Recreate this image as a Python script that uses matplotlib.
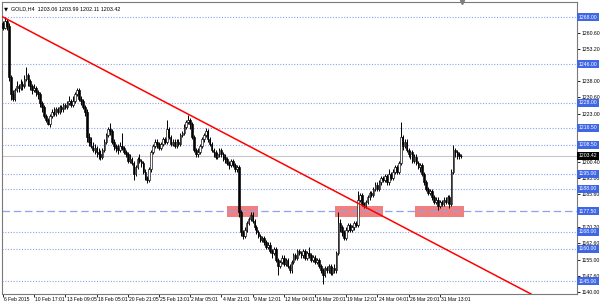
import matplotlib
matplotlib.use("Agg")
import matplotlib.pyplot as plt
import matplotlib.transforms as mtransforms
from matplotlib.patches import Rectangle

# GOLD H4 candles (bar index = position on the time axis)
closes = [1263,1266,1264,1240,1232,1230,1234,1236,1235,1237,
          1236,1239,1241,1238,1236,1234,1235,1233,1232,1228,
          1226,1222,1220,1218,1222,1224,1223,1225,1224,1226,
          1225,1227,1226,1228,1229,1227,1229,1232,1234,1230,
          1229,1226,1224,1212,1210,1208,1206,1207,1205,1204,
          1203,1206,1210,1213,1216,1215,1210,1208,1207,1206,
          1208,1207,1205,1204,1201,1202,1200,1195,1198,1202,
          1201,1200,1196,1193,1192,1197,1205,1208,1210,1209,
          1207,1209,1211,1210,1216,1212,1209,1210,1208,1210,
          1209,1213,1214,1217,1219,1220,1218,1212,1206,1204,
          1205,1208,1211,1213,1215,1211,1209,1206,1205,1203,
          1204,1206,1204,1203,1202,1200,1199,1201,1199,1197,
          1198,1177,1168,1166,1169,1172,1174,1176,1173,1170,
          1168,1166,1164,1165,1163,1161,1162,1159,1158,1160,
          1155,1152,1154,1156,1153,1155,1152,1150,1154,1157,
          1156,1159,1158,1157,1159,1156,1158,1157,1155,1156,
          1154,1155,1152,1150,1148,1151,1150,1152,1149,1151,
          1150,1158,1172,1170,1168,1165,1169,1171,1169,1170,
          1172,1171,1183,1185,1181,1180,1182,1184,1186,1185,
          1188,1190,1188,1191,1193,1192,1194,1191,1195,1193,
          1196,1198,1196,1200,1212,1208,1210,1206,1204,1205,
          1201,1203,1200,1198,1199,1195,1191,1188,1186,1187,
          1184,1182,1183,1180,1182,1181,1183,1182,1184,1181,
          1196,1206,1205,1204,1203.06,1203.42]

highs = [1266,1268,1267,1265,1241,1234,1235,1238,1237,1239,
         1238,1241,1244.5,1242,1239,1237,1237,1236,1234,1233,
         1229,1227,1223,1221,1223,1225,1226,1226,1226,1227,
         1227,1228,1228,1229,1231,1230,1231,1233,1235,1235,
         1231,1230,1227,1225,1214,1212,1210,1209,1208,1207,
         1206,1207,1211,1214,1217,1218.5,1216,1211,1209,1209,
         1210,1214,1208,1206,1205,1204,1203,1201,1199,1203,
         1204,1202,1201,1197,1194,1198,1206,1209,1211,1211,
         1210,1210,1212,1212,1220,1217,1213,1211,1211,1211,
         1211,1214,1215,1218,1220,1222.5,1221,1219,1213,1207,
         1207,1209,1212,1214,1216.5,1216,1212,1210,1207,1206,
         1205,1207,1207,1205,1204,1203,1201,1202,1202,1200,
         1199,1199,1178,1169,1170,1173,1175,1177,1177,1174,
         1171,1169,1167,1166,1166,1164,1163,1163,1160,1161,
         1161,1156,1155,1157,1157,1156,1156,1153,1155,1158,
         1158,1160,1160,1159,1160,1160,1159,1161,1158,1157,
         1157,1156,1156,1153,1151,1152,1152,1153,1153,1152,
         1153,1159,1177,1174,1171,1169,1170,1172,1172,1171,
         1173,1173,1187,1186,1186,1182,1183,1185,1187,1187,
         1189,1191,1191,1192,1194,1194,1195,1195,1197,1196,
         1197,1199,1199,1201,1219,1213,1211,1211,1207,1206,
         1206,1204,1204,1201,1200,1200,1196,1192,1189,1188,
         1188,1185,1184,1184,1183,1183,1184,1184,1185,1185,
         1197,1208.5,1207,1206,1205,1203.99]

lows = [1262,1262.5,1262,1238,1229.5,1229,1229,1233,1233,1234,
        1234,1235,1238,1236,1234,1232,1233,1231,1230,1226,
        1224,1221,1219,1217.5,1217,1221,1222,1222,1223,1223,
        1224,1224,1225,1225,1227,1226,1226,1228,1231,1229,
        1227,1225,1222,1210,1208,1207,1205,1204,1203,1202,
        1201.5,1202,1205,1209,1212,1213,1209,1206,1205,1204,
        1205,1206,1204,1203,1200,1200,1199,1192,1194,1197,
        1200,1198,1195,1192,1190.5,1191,1196,1204,1207,1207,
        1206,1206,1208,1209,1209,1211,1208,1208,1207,1207,
        1208,1208,1212,1213,1216,1218,1216,1211,1205,1203,
        1203,1204,1207,1210,1212,1210,1208,1205,1203,1202,
        1202,1203,1203,1201,1200,1199,1197,1198,1198,1196,
        1196,1175,1166,1164.5,1165,1168,1171,1173,1172,1169,
        1167,1165,1163,1163,1162,1160,1160,1158,1156,1157,
        1154,1148,1151,1153,1152,1152,1151,1149,1149,1153,
        1155,1155,1157,1156,1156,1155,1155,1156,1154,1154,
        1153,1153,1151,1149,1143.5,1147,1149,1149,1148,1148,
        1149,1149,1157,1168,1166,1164,1164,1168,1168,1168,
        1169,1170,1170,1182,1180,1179,1179,1181,1183,1184,
        1184,1187,1187,1187,1190,1191,1191,1190,1190,1192,
        1192,1195,1195,1195,1199,1206,1207,1205,1203,1202,
        1200,1200,1199,1197,1196,1194,1190,1187,1185,1185,
        1183,1181,1181,1178,1179,1180,1180,1181,1181,1179,
        1180,1195,1203,1202,1202,1202.11]

first_open = 1265
opens = [first_open] + closes[:-1]

# horizontal levels drawn on the chart
dotted_levels = [1268.00, 1246.00, 1228.00, 1216.50, 1208.50, 1195.00, 1188.00, 1168.00, 1160.00, 1145.00]
dashed_level = 1177.50
bid = 1203.42

# price scale ticks (labels hidden behind a level box are left empty)
ytick_values = [1140.00, 1147.60, 1155.00, 1162.60, 1170.20, 1177.80, 1185.60, 1193.00, 1200.40,
                1208.00, 1215.80, 1223.00, 1230.60, 1238.00, 1245.60, 1253.20, 1260.60, 1268.00]
ytick_hidden = [1177.80, 1208.00, 1215.80, 1245.60, 1268.00]

# time axis labels, one every 16 bars
xtick_bars = [0, 16, 32, 48, 64, 80, 96, 112, 128, 144, 160, 176, 192, 208, 224]
xtick_labels = ['6 Feb 2015', '10 Feb 17:01', '13 Feb 09:05', '18 Feb 05:01', '20 Feb 21:05',
                '25 Feb 13:01', '2 Mar 05:01', '4 Mar 21:01', '9 Mar 12:01', '12 Mar 04:01',
                '16 Mar 20:01', '19 Mar 12:01', '24 Mar 04:01', '26 Mar 20:01', '31 Mar 13:01']

# trend line (two anchor points) and support zones (bar from, bar to, price low, price high)
trend_bars = [0, 268.7]
trend_prices = [1268.0, 1140.0]
zones = [(114.9, 130.8, 1175.0, 1180.0),
         (170.3, 194.9, 1175.0, 1180.0),
         (211.3, 236.4, 1175.0, 1180.0)]

title = 'GOLD,H4  1203.06 1203.99 1202.11 1203.42'

narrow = ['Liberation Sans Narrow', 'Liberation Sans', 'DejaVu Sans']
regular = ['Liberation Sans', 'DejaVu Sans']

fig = plt.figure(figsize=(6.0, 3.03), dpi=100)
fig.patch.set_facecolor('white')
ax = fig.add_axes([2/600, 9/303, 575/600, 292/303])
ax.set_xlim(-0.5, 294.4)
ax.set_ylim(1139.0, 1275.0)

line_col = '#8fa2ee'
box_col = '#3f66e4'

for z in zones:
    ax.add_patch(Rectangle((z[0], z[2]), z[1]-z[0], z[3]-z[2], facecolor='#f08080',
                           edgecolor='none', zorder=0.5))

for lv in dotted_levels:
    ax.axhline(lv, color=line_col, lw=0.8, ls=(0, (1, 1.5)), zorder=1)
ax.axhline(dashed_level, color=line_col, lw=0.9, ls=(0, (6, 3)), zorder=1)
ax.axhline(bid, color='#c8c8c8', lw=0.8, zorder=1)

# candles
idx = list(range(len(closes)))
ax.vlines(idx, lows, highs, color='black', lw=0.7, zorder=2)
for i in idx:
    o, c = opens[i], closes[i]
    fc = 'white' if c >= o else 'black'
    ax.bar(i, max(abs(c-o), 0.15), bottom=min(o, c), width=0.8, color=fc,
           edgecolor='black', lw=0.45, zorder=3)

ax.axline((trend_bars[0], trend_prices[0]), (trend_bars[1], trend_prices[1]), color='red', lw=1.1, zorder=4)

# frame
for s in ['left', 'top', 'right', 'bottom']:
    ax.spines[s].set_color('#7a7a7a')
    ax.spines[s].set_linewidth(0.8)

ax.yaxis.tick_right()
ax.set_yticks(ytick_values)
ax.set_yticklabels(['' if v in ytick_hidden else '%.2f' % v for v in ytick_values],
                   family=regular)
ax.tick_params(axis='y', length=2, width=0.6, pad=1.2, labelsize=3.7, colors='black')
ax.set_xticks(xtick_bars)
ax.set_xticklabels([])
ax.tick_params(axis='x', length=2, width=0.6, colors='black')

trans_x = mtransforms.blended_transform_factory(ax.transData, ax.transAxes)
for b, lab in zip(xtick_bars, xtick_labels):
    ax.text(b + 0.6, -0.01, lab, transform=trans_x, ha='left', va='top', fontsize=3.6,
            family=narrow, clip_on=False)

# price labels of the levels on the scale
trans_y = mtransforms.blended_transform_factory(ax.transAxes, ax.transData)
for lv in dotted_levels + [dashed_level]:
    ax.text(1.003, lv, '%.2f' % lv, transform=trans_y, ha='left', va='center', fontsize=3.7,
            family=regular, color='white', clip_on=False, zorder=6,
            bbox=dict(boxstyle='square,pad=0.3', fc=box_col, ec='none'))
ax.text(1.003, bid, '%.2f' % bid, transform=trans_y, ha='left', va='center', fontsize=3.7,
        family=regular, color='white', clip_on=False, zorder=6,
        bbox=dict(boxstyle='square,pad=0.3', fc='black', ec='none'))

ax.text(0.004, 0.984, '\u25bc', transform=ax.transAxes, ha='left', va='top',
        fontsize=3.8, family='DejaVu Sans', color='black')
ax.text(0.015, 0.984, title, transform=ax.transAxes, ha='left', va='top',
        fontsize=3.9, family=narrow, color='black')
ax.plot([235.5], [1], marker='v', color='#808080', markersize=3, transform=trans_x, clip_on=False)

fig.savefig('out.png', dpi=100, facecolor='white')
